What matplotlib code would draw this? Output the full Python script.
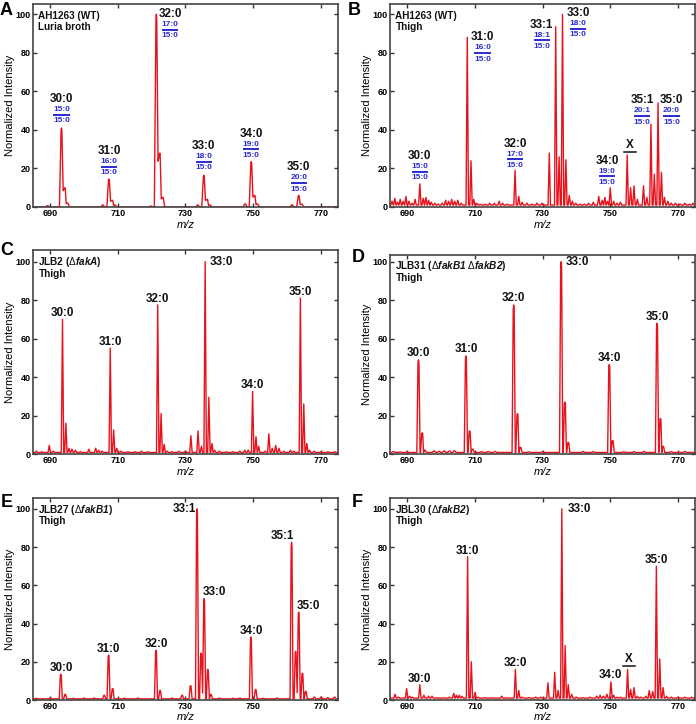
import numpy as np
import matplotlib
matplotlib.use('Agg')
import matplotlib.pyplot as plt
from matplotlib.transforms import offset_copy

plt.rcParams['font.family'] = ['Liberation Sans', 'DejaVu Sans']
plt.rcParams['mathtext.fontset'] = 'custom'
plt.rcParams['mathtext.rm'] = 'Liberation Sans'
plt.rcParams['mathtext.it'] = 'Liberation Sans:italic'
plt.rcParams['mathtext.bf'] = 'Liberation Sans:bold'
plt.rcParams['mathtext.bfit'] = 'Liberation Sans:italic:bold'

RED = '#e8121c'
BLUE = '#2a2ad2'

# ---- peak tables (m/z, normalized intensity) ----
peaks_a = [(693.4, 41), (694.4, 10), (695.2, 2), (707.4, 14.5), (708.4, 3.5), (709.2, 1),
           (721.4, 100), (722.4, 28), (723.3, 5), (735.4, 16.5), (736.4, 4), (737.2, 1),
           (749.4, 23.5), (750.4, 6), (751.2, 1.5), (763.4, 6), (764.3, 1.5)]
noise_a = [(689.3, 0.7), (705.6, 1.0), (719.8, 0.5), (733.6, 1.0), (747.6, 1.6), (761.4, 1.1)]

peaks_b = [(693.8, 12), (707.8, 88), (708.9, 24), (709.7, 4), (721.9, 19), (723.0, 5.5),
           (732.0, 28), (733.9, 93.5), (734.9, 26), (735.9, 100), (736.9, 24.5), (737.9, 6),
           (750.0, 10), (755.0, 27), (756.0, 10), (757.0, 11), (759.8, 11), (762.0, 43),
           (763.0, 17), (764.1, 54), (765.1, 18), (766.0, 5)]
noise_b = [(685.6, 3), (686.4, 4.5), (687.2, 2.5), (688.0, 4), (688.9, 3), (689.7, 5.5),
           (690.6, 3), (691.5, 2), (692.4, 4), (694.8, 4.5), (695.6, 5), (696.4, 3.5),
           (697.2, 2.5), (698.2, 2), (699.2, 1.5), (700.4, 2), (701.4, 3.5), (702.3, 3),
           (703.2, 4), (704.1, 3), (705.0, 3.5), (706.0, 2), (710.6, 2), (711.6, 1.5),
           (713.0, 1.5), (714.4, 2), (715.8, 2), (717.2, 3), (718.2, 2), (719.6, 1.5),
           (724.0, 2.5), (725.4, 2), (726.8, 1.5), (728.4, 2), (729.8, 2), (738.8, 3),
           (739.8, 2), (741.0, 1.5), (742.4, 1.5), (743.6, 2), (745.0, 2.5), (746.6, 5.5),
           (747.6, 3.5), (748.4, 5), (749.2, 3), (751.0, 3), (752.0, 2), (753.0, 2.5),
           (758.0, 4), (760.8, 5), (767.0, 3), (768.0, 2), (769.2, 2), (770.6, 1.5),
           (772.0, 2), (773.4, 1.5), (774.4, 2)]

peaks_c = [(693.7, 70), (694.7, 16), (707.8, 55), (708.8, 12.5), (721.8, 77.5), (722.8, 21),
           (723.7, 5), (731.6, 9.5), (733.7, 12), (735.8, 100), (736.9, 29.5), (737.8, 5.5),
           (749.8, 32.5), (750.8, 9), (751.6, 4), (754.6, 10.5), (755.6, 3), (756.6, 4.5),
           (757.6, 3), (763.9, 81), (764.9, 26), (765.8, 5.5)]
noise_c = [(686.0, 1.5), (687.6, 1.2), (689.8, 4.5), (691.0, 1.5), (695.6, 3), (696.5, 2.5),
           (697.5, 2), (699.0, 1.2), (701.5, 2.5), (703.5, 3), (704.4, 2), (705.4, 1.5),
           (709.7, 3), (711.0, 1.5), (713.0, 1.2), (715.0, 1.2), (717.0, 1.5), (719.0, 1.2),
           (724.6, 1.5), (726.0, 1.2), (728.0, 1.5), (730.0, 1.5), (734.7, 4), (738.6, 2),
           (740.0, 1.5), (742.0, 1.2), (744.0, 1.2), (746.0, 1.5), (747.5, 2), (748.5, 2),
           (753.5, 1.5), (759.0, 1.5), (761.0, 2), (762.0, 1.5), (766.6, 2), (768.0, 1.5),
           (770.0, 1.2), (772.0, 1.2), (774.0, 1.2)]

peaks_d = [(693.4, 49), (694.5, 11), (695.3, 2), (707.4, 51), (708.5, 12), (709.4, 2.5),
           (721.5, 77.5), (722.6, 21), (723.5, 3.5), (735.5, 100), (736.6, 27), (737.6, 6),
           (749.7, 46.5), (750.7, 7), (763.8, 68), (764.8, 18.5), (765.6, 4)]
noise_d = [(686.0, 1.3), (688.0, 1.1), (690.0, 1.2), (698.0, 1.6), (699.5, 1.4), (701.0, 1.6),
           (702.5, 1.5), (704.0, 1.7), (712.0, 1.2), (714.0, 1.3), (716.0, 1.3), (726.0, 1.1),
           (730.0, 1.2), (742.0, 1.3), (745.0, 1.2), (754.0, 1.1), (757.0, 1.2), (760.0, 1.3),
           (768.0, 1.2), (772.0, 1.3)]

peaks_e = [(693.2, 13.5), (694.5, 3), (706.0, 2.5), (707.3, 23.5), (708.5, 6), (721.3, 26),
           (722.5, 5), (731.5, 7.5), (733.4, 100), (734.6, 24.5), (735.5, 53), (736.6, 16),
           (737.5, 3), (749.3, 33), (750.7, 5.5), (761.3, 82.5), (762.5, 25.5), (763.4, 46),
           (764.5, 14), (765.5, 4.5)]
noise_e = [(686.0, 0.9), (690.0, 1.0), (697.0, 0.9), (700.0, 1.0), (703.0, 1.0), (712.0, 0.9),
           (716.0, 1.0), (726.0, 1.0), (729.0, 2.5), (740.0, 1.0), (744.0, 0.9), (746.0, 1.0),
           (753.0, 0.9), (757.0, 1.0), (768.0, 1.5), (770.0, 1.5), (772.0, 1.2), (774.0, 1.5)]

peaks_f = [(693.8, 8), (707.9, 75), (709.0, 20), (722.0, 16), (723.0, 5), (731.6, 9),
           (733.6, 14.5), (735.7, 100), (736.7, 28.5), (737.6, 8), (750.2, 9.5), (755.1, 16),
           (756.0, 5.5), (757.0, 6.5), (761.5, 5), (762.5, 4.5), (763.6, 70), (764.6, 21.5),
           (765.6, 6.5)]
noise_f = [(686.5, 3), (687.5, 1.5), (689.9, 6), (690.8, 2), (691.6, 1.5), (695.0, 2.5),
           (696.4, 2), (697.4, 2), (699.0, 1.2), (701.0, 1.2), (702.5, 1.5), (703.8, 3.5),
           (704.6, 2.5), (705.4, 2.5), (706.2, 2), (710.1, 4), (711.0, 1.5), (713.0, 1.2),
           (715.0, 1.2), (718.0, 2), (719.5, 1.2), (724.0, 1.5), (726.0, 1.2), (728.0, 1.5),
           (729.5, 1.5), (734.6, 5), (738.6, 3), (740.0, 1.5), (742.0, 1.2), (744.0, 1.5),
           (746.0, 2), (747.0, 2.5), (748.0, 2), (749.0, 3), (751.0, 2.5), (752.0, 1.5),
           (753.0, 1.5), (758.0, 2), (759.0, 1.5), (760.5, 2), (766.6, 2), (768.0, 1.5),
           (770.0, 1.5), (772.0, 1.5), (774.0, 1.5)]

# ---- annotations: (species, x, y, acyl numerator, acyl denominator) ----
labels_a = [("30:0", 693.4, 56, "15:0", "15:0"), ("31:0", 707.4, 29, "16:0", "15:0"),
            ("32:0", 725.5, 100, "17:0", "15:0"), ("33:0", 735.4, 31.5, "18:0", "15:0"),
            ("34:0", 749.4, 38, "19:0", "15:0"), ("35:0", 763.4, 20.5, "20:0", "15:0")]
labels_b = [("30:0", 693.8, 26.3, "15:0", "15:0"), ("31:0", 712.3, 88, "16:0", "15:0"),
            ("32:0", 721.9, 32.8, "17:0", "15:0"), ("33:1", 729.8, 94.5, "18:1", "15:0"),
            ("33:0", 740.5, 100.5, "18:0", "15:0"), ("34:0", 749.0, 24, "19:0", "15:0"),
            ("35:1", 759.4, 55.3, "20:1", "15:0"), ("35:0", 768.1, 55.3, "20:0", "15:0")]
labels_c = [("30:0", 693.7, 73.5), ("31:0", 707.8, 58), ("32:0", 721.8, 80.6),
            ("33:0", 740.6, 99.6), ("34:0", 749.6, 36), ("35:0", 763.9, 84)]
labels_d = [("30:0", 693.4, 52.4), ("31:0", 707.4, 54.5), ("32:0", 721.5, 81),
            ("33:0", 740.2, 99.6), ("34:0", 749.7, 49.8), ("35:0", 763.8, 71.5)]
labels_e = [("30:0", 693.4, 17), ("31:0", 707.3, 26.8), ("32:0", 721.3, 29.4),
            ("33:1", 729.6, 100), ("33:0", 738.5, 56.6), ("34:0", 749.3, 36),
            ("35:1", 758.5, 85.6), ("35:0", 766.3, 49)]
labels_f = [("30:0", 693.8, 11.2), ("31:0", 707.9, 78), ("32:0", 722.0, 19.4),
            ("33:0", 740.8, 100), ("34:0", 750.1, 13), ("35:0", 763.6, 73.5)]
marks_x = {'B': (755.8, 32), 'F': (755.6, 21.6)}

strains = {
    'A': ("AH1263 (WT)", "Luria broth"),
    'B': ("AH1263 (WT)", "Thigh"),
    'C': (r"JLB2 ($\Delta\mathbfit{fakA}$)", "Thigh"),
    'D': (r"JLB31 ($\Delta\mathbfit{fakB1}$ $\Delta\mathbfit{fakB2}$)", "Thigh"),
    'E': (r"JLB27 ($\Delta\mathbfit{fakB1}$)", "Thigh"),
    'F': (r"JBL30 ($\Delta\mathbfit{fakB2}$)", "Thigh"),
}

xticks = [690, 710, 730, 750, 770]
yticks = [0, 20, 40, 60, 80, 100]
XMIN, XMAX = 685, 775


def trace(peaks, base, w, top, dip):
    """polyline through the listed peaks; overlapping peaks share one valley"""
    pts = sorted(peaks)
    xs, ys = [XMIN], [base]
    prev = None
    for c, h in pts:
        if prev is not None and c - w < prev[0] + w:
            xs.pop(); ys.pop()
            xs.append((prev[0] + c) / 2)
            ys.append(max(base, dip * min(h, prev[1])))
        else:
            xs.append(c - w); ys.append(base)
        if top > 0:
            xs += [c - top, c, c + top]
            ys += [h * 0.97, h, h * 0.97]
        else:
            xs.append(c); ys.append(h)
        xs.append(c + w); ys.append(base)
        prev = (c, h)
    xs.append(XMAX); ys.append(base)
    return np.array(xs), np.array(ys)


def peak_label(ax, name, x, y, num=None, den=None):
    fig = ax.figure
    ax.text(x, y, name, ha='center', va='center', fontsize=8.4,
            fontweight='bold', color='#111111')
    if num is None:
        return
    t1 = offset_copy(ax.transData, fig=fig, y=-7.4, units='points')
    ax.text(x, y, num, transform=t1, ha='center', va='center', fontsize=6,
            fontweight='bold', color=BLUE)
    t2 = offset_copy(ax.transData, fig=fig, y=-11.2, units='points')
    ax.plot([x - 2.4, x + 2.4], [y, y], transform=t2, color=BLUE, lw=1.4,
            solid_capstyle='butt')
    t3 = offset_copy(ax.transData, fig=fig, y=-15.6, units='points')
    ax.text(x, y, den, transform=t3, ha='center', va='center', fontsize=6,
            fontweight='bold', color=BLUE)


def mark_x(ax, x, y):
    ax.text(x, y, "X", ha='center', va='center', fontsize=8.4,
            fontweight='bold', color='#111111')
    t = offset_copy(ax.transData, fig=ax.figure, y=-5.0, units='points')
    ax.plot([x - 1.8, x + 1.8], [y, y], transform=t, color='#111111', lw=1.1)


fig = plt.figure(figsize=(6.96, 7.24), dpi=100)
W, H = 696., 724.

# panel boxes in pixels: left, top, right, bottom
boxes = {
    'A': (33, 4, 338, 207), 'B': (390, 4, 695, 207),
    'C': (33, 250, 338, 454), 'D': (390, 255, 695, 454),
    'E': (33, 498, 338, 700), 'F': (390, 498, 695, 700),
}
ytops = {'A': 105.3, 'B': 105.3, 'C': 106, 'D': 103.5, 'E': 105.7, 'F': 105.7}
letter_pos = {'A': (0, 15), 'B': (348, 15), 'C': (0, 255), 'D': (352, 262),
              'E': (1, 507), 'F': (352, 507)}
# distance (px) from the bottom spine to the centre of the m/z label
xlabel_gap = {'A': 18, 'B': 18, 'C': 18, 'D': 18, 'E': 16.5, 'F': 16.5}

spectra = {
    'A': (peaks_a + noise_a, 0.0, 0.6, 0.12, 0.85),
    'B': (peaks_b + noise_b, 1.0, 0.36, 0.0, 0.15),
    'C': (peaks_c + noise_c, 0.8, 0.36, 0.0, 0.15),
    'D': (peaks_d + noise_d, 0.8, 0.48, 0.14, 0.1),
    'E': (peaks_e + noise_e, 0.6, 0.45, 0.12, 0.15),
    'F': (peaks_f + noise_f, 1.0, 0.36, 0.0, 0.15),
}
labels = {'A': labels_a, 'B': labels_b, 'C': labels_c, 'D': labels_d,
          'E': labels_e, 'F': labels_f}

for key in 'ABCDEF':
    l, t, r, b = boxes[key]
    ax = fig.add_axes([l / W, 1 - b / H, (r - l) / W, (b - t) / H])
    pk, base, w, top, dip = spectra[key]
    xs, ys = trace(pk, base, w, top, dip)
    ax.plot(xs, ys, color=RED, lw=1.0)

    for lab in labels[key]:
        peak_label(ax, *lab)
    if key in marks_x:
        mark_x(ax, *marks_x[key])

    s1, s2 = strains[key]
    ax.text(0.018, 0.928, s1, transform=ax.transAxes, fontsize=7.2,
            fontweight='bold', color='#111111')
    ax.text(0.018, 0.87, s2, transform=ax.transAxes, fontsize=7.2,
            fontweight='bold', color='#111111')

    ax.set_xlim(XMIN, XMAX)
    ax.set_ylim(0, ytops[key])
    ax.set_xticks(xticks)
    ax.set_yticks(yticks)
    ax.tick_params(direction='in', length=3, width=1, top=True, right=True,
                   labelsize=6.5, pad=1.5, color='#333333')
    for tl in ax.get_xticklabels() + ax.get_yticklabels():
        tl.set_fontweight('bold')
    for sp in ax.spines.values():
        sp.set_color('#444444')
        sp.set_linewidth(1.2)
    ax.set_ylabel('Normalized Intensity', fontsize=8)
    ax.yaxis.set_label_coords(-0.058, 0.5)
    ax.set_xlabel('m/z', fontsize=8, style='italic', va='center')
    ax.xaxis.set_label_coords(0.5, -xlabel_gap[key] / (b - t))

    lx, ly = letter_pos[key]
    fig.text(lx / W, 1 - ly / H, key, fontsize=13, fontweight='bold',
             va='baseline', ha='left')

fig.savefig('out.png', dpi=100)
